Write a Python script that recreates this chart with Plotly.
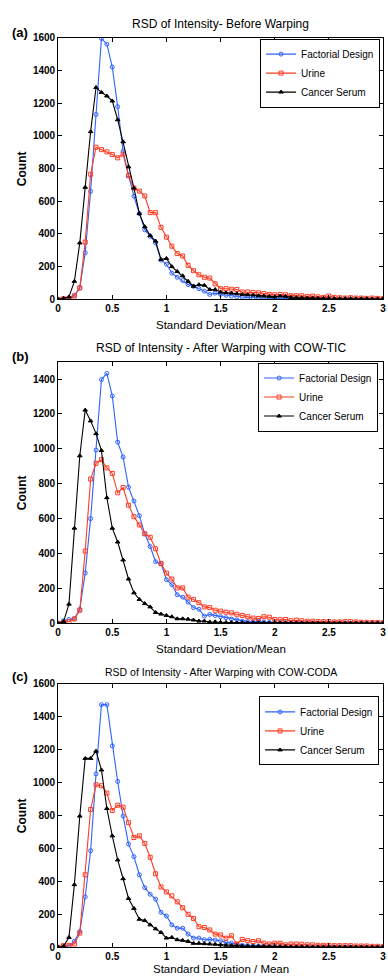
import plotly.graph_objects as go

# bin centres (Standard Deviation / Mean)
rsd = [0.00, 0.05, 0.10, 0.15, 0.20, 0.25, 0.30, 0.35, 0.40, 0.45,
       0.50, 0.55, 0.60, 0.65, 0.70, 0.75, 0.80, 0.85, 0.90, 0.95,
       1.00, 1.05, 1.10, 1.15, 1.20, 1.25, 1.30, 1.35, 1.40, 1.45,
       1.50, 1.55, 1.60, 1.65, 1.70, 1.75, 1.80, 1.85, 1.90, 1.95,
       2.00, 2.05, 2.10, 2.15, 2.20, 2.25, 2.30, 2.35, 2.40, 2.45,
       2.50, 2.55, 2.60, 2.65, 2.70, 2.75, 2.80, 2.85, 2.90, 2.95,
       3.00]

# (a) Before warping
a_factorial = [0, 5, 10, 25, 70, 285, 660, 1130, 1595, 1560,
               1420, 1178, 905, 760, 630, 525, 425, 385, 345, 240,
               215, 160, 135, 115, 90, 80, 65, 50, 30, 38,
               30, 25, 20, 15, 14, 12, 10, 9, 7, 6,
               5, 5, 4, 4, 3, 3, 3, 3, 2, 2,
               2, 2, 2, 2, 2, 1, 1, 1, 1, 1,
               1]
a_urine = [0, 3, 5, 20, 70, 350, 765, 930, 915, 902,
           885, 865, 888, 755, 680, 662, 632, 530, 530, 440,
           380, 325, 280, 265, 208, 175, 150, 135, 130, 95,
           65, 65, 62, 60, 45, 45, 42, 40, 35, 30,
           28, 30, 28, 22, 22, 22, 18, 20, 15, 12,
           20, 12, 10, 8, 10, 8, 8, 6, 8, 6,
           5]
a_cancer = [0, 5, 15, 110, 345, 685, 1025, 1295, 1265, 1243,
            1213, 1098, 963, 810, 680, 524, 444, 390, 356, 244,
            250, 200, 170, 144, 110, 80, 90, 86, 60, 60,
            44, 40, 38, 35, 30, 28, 26, 22, 20, 18,
            16, 20, 18, 12, 10, 10, 8, 8, 6, 6,
            5, 5, 4, 4, 4, 3, 3, 3, 2, 2,
            2]

# (b) After warping with COW-TIC
b_factorial = [0, 15, 22, 28, 80, 288, 600, 993, 1397, 1432,
               1303, 1038, 953, 780, 701, 617, 513, 440, 353, 342,
               250, 222, 164, 150, 122, 90, 81, 41, 51, 45,
               38, 32, 25, 20, 12, 10, 8, 12, 8, 5,
               5, 4, 4, 3, 3, 3, 3, 2, 2, 2,
               2, 2, 2, 2, 1, 1, 1, 1, 1, 1,
               1]
b_urine = [0, 5, 10, 25, 75, 414, 827, 917, 938, 891,
           859, 748, 778, 677, 611, 564, 513, 493, 427, 342,
           288, 254, 203, 203, 150, 137, 118, 94, 90, 75,
           70, 64, 60, 52, 45, 38, 30, 28, 38, 35,
           22, 20, 22, 15, 18, 15, 12, 12, 10, 10,
           10, 8, 8, 10, 10, 8, 6, 6, 5, 5,
           4]
b_cancer = [0, 10, 110, 545, 960, 1222, 1160, 1087, 990, 720,
            545, 466, 363, 254, 175, 137, 113, 94, 62, 53,
            45, 38, 26, 26, 24, 19, 13, 13, 8, 9,
            6, 5, 5, 4, 4, 3, 3, 3, 3, 2,
            2, 2, 2, 2, 2, 2, 1, 1, 1, 1,
            1, 1, 1, 1, 1, 1, 1, 1, 1, 1,
            1]

# (c) After warping with COW-CODA
c_factorial = [0, 3, 8, 36, 96, 306, 586, 1052, 1472, 1472,
               1222, 1006, 796, 626, 550, 440, 362, 322, 292, 212,
               190, 136, 116, 116, 80, 56, 56, 46, 48, 44,
               40, 30, 25, 18, 12, 10, 10, 8, 6, 5,
               5, 4, 4, 3, 3, 3, 3, 2, 2, 2,
               2, 2, 2, 2, 2, 1, 1, 1, 1, 1,
               1]
c_urine = [0, 10, 12, 20, 86, 440, 836, 986, 980, 936,
           830, 862, 850, 756, 666, 676, 630, 546, 446, 366,
           336, 312, 276, 240, 200, 175, 125, 120, 105, 80,
           75, 55, 70, 20, 48, 40, 35, 40, 25, 20,
           25, 25, 15, 20, 20, 18, 15, 15, 12, 12,
           12, 10, 10, 10, 10, 8, 8, 8, 6, 6,
           5]
c_cancer = [0, 6, 60, 380, 796, 1146, 1146, 1190, 1076, 842,
            676, 530, 416, 296, 236, 170, 162, 136, 112, 90,
            56, 60, 46, 42, 36, 24, 24, 22, 20, 18,
            15, 12, 10, 10, 8, 8, 6, 6, 5, 5,
            4, 4, 4, 3, 3, 3, 3, 2, 2, 2,
            2, 2, 2, 2, 2, 1, 1, 1, 1, 1,
            1]

series_names = ["Factorial Design", "Urine", "Cancer Serum"]
panel_titles = ["RSD of Intensity- Before Warping",
                "RSD of Intensity - After Warping with COW-TIC",
                "RSD of Intensity - After Warping with COW-CODA"]
panel_labels = ["(a)", "(b)", "(c)"]
x_titles = ["Standard Deviation/Mean", "Standard Deviation/Mean", "Standard Deviation / Mean"]
y_maxes = [1600, 1500, 1600]
y_ticks = [[0, 200, 400, 600, 800, 1000, 1200, 1400, 1600],
           [0, 200, 400, 600, 800, 1000, 1200, 1400],
           [0, 200, 400, 600, 800, 1000, 1200, 1400, 1600]]
x_ticks = [0, 0.5, 1, 1.5, 2, 2.5, 3]
x_tick_text = ["0", "0.5", "1", "1.5", "2", "2.5", "3"]

panels = [(a_factorial, a_urine, a_cancer),
          (b_factorial, b_urine, b_cancer),
          (c_factorial, c_urine, c_cancer)]

W, H = 388, 977
FONT = "Liberation Sans, Arial, sans-serif"
BLUE = "#2f62ff"
RED = "#ff3b22"
BLACK = "#000000"

# pixel layout of plot areas (top, bottom)
plot_px = [(32, 297), (360, 625), (686, 953)]
x_px = (56, 386)
legend_px = [(383, 33), (381, 361), (382, 699)]
title_px = [18, 346, 674]
title_sizes = [12, 12, 10.5]
label_px = [27, 355, 679]
xtitle_top_px = [315, 643, 967]

def py(p):
    return 1 - p / H

fig = go.Figure()
styles = [
    dict(color=BLUE, symbol="circle-open", size=4),
    dict(color=RED, symbol="square-open", size=4),
    dict(color=BLACK, symbol="triangle-up", size=4),
]
line_colors = [BLUE, RED, BLACK]

for i, data in enumerate(panels):
    suffix = "" if i == 0 else str(i + 1)
    legend_name = "legend" if i == 0 else "legend" + str(i + 1)
    for j, ys in enumerate(data):
        st = styles[j]
        fig.add_trace(go.Scatter(
            x=rsd, y=ys, mode="lines+markers", name=series_names[j],
            line=dict(color=line_colors[j], width=1.1),
            marker=dict(color=st["color"], symbol=st["symbol"], size=st["size"],
                        line=dict(color=st["color"], width=1)),
            xaxis="x" + suffix, yaxis="y" + suffix, legend=legend_name,
        ))

layout = dict(
    width=W, height=H, margin=dict(l=0, r=0, t=0, b=0),
    paper_bgcolor="white", plot_bgcolor="white",
    font=dict(family=FONT, color="black"),
    annotations=[],
)

for i in range(3):
    suffix = "" if i == 0 else str(i + 1)
    top, bot = plot_px[i]
    layout["xaxis" + suffix] = dict(
        domain=[x_px[0] / W, x_px[1] / W], range=[0, 3],
        anchor="y" + suffix, tickvals=x_ticks, ticktext=x_tick_text,
        ticks="inside", ticklen=4, tickcolor="black",
        showline=True, linecolor="black", linewidth=1, mirror="ticks",
        showgrid=False, zeroline=False, ticklabeloverflow="allow",
        tickfont=dict(size=10, family=FONT, weight="bold"),
    )
    layout["yaxis" + suffix] = dict(
        domain=[py(bot), py(top)], range=[0, y_maxes[i]],
        anchor="x" + suffix, tickvals=y_ticks[i],
        ticks="inside", ticklen=4, tickcolor="black",
        showline=True, linecolor="black", linewidth=1, mirror="ticks",
        showgrid=False, zeroline=False, ticklabeloverflow="allow",
        tickfont=dict(size=10, family=FONT, weight="bold"),
    )
    legend_name = "legend" if i == 0 else "legend" + str(i + 1)
    lx, ly = legend_px[i]
    layout[legend_name] = dict(
        x=lx / W, y=py(ly), xanchor="right", yanchor="top",
        bgcolor="white", bordercolor="black", borderwidth=1,
        font=dict(size=10, family=FONT), itemwidth=30,
        tracegroupgap=0,
    )
    layout["annotations"] += [
        dict(text=panel_titles[i], x=(x_px[0] + x_px[1]) / 2 / W, y=py(title_px[i]),
             xref="paper", yref="paper", showarrow=False, xanchor="center", yanchor="middle",
             font=dict(size=title_sizes[i], family=FONT)),
        dict(text=panel_labels[i], x=7 / W, y=py(label_px[i]),
             xref="paper", yref="paper", showarrow=False, xanchor="left", yanchor="middle",
             font=dict(size=13, family=FONT, weight="bold")),
        dict(text=x_titles[i], x=(x_px[0] + x_px[1]) / 2 / W, y=py(xtitle_top_px[i]),
             xref="paper", yref="paper", showarrow=False, xanchor="center", yanchor="top",
             font=dict(size=11.5, family=FONT)),
        dict(text="Count", x=20 / W, y=py((top + bot) / 2),
             xref="paper", yref="paper", showarrow=False, textangle=-90,
             xanchor="center", yanchor="middle",
             font=dict(size=12, family=FONT, weight="bold")),
    ]

fig.update_layout(**layout)
fig.write_html("out.html")
